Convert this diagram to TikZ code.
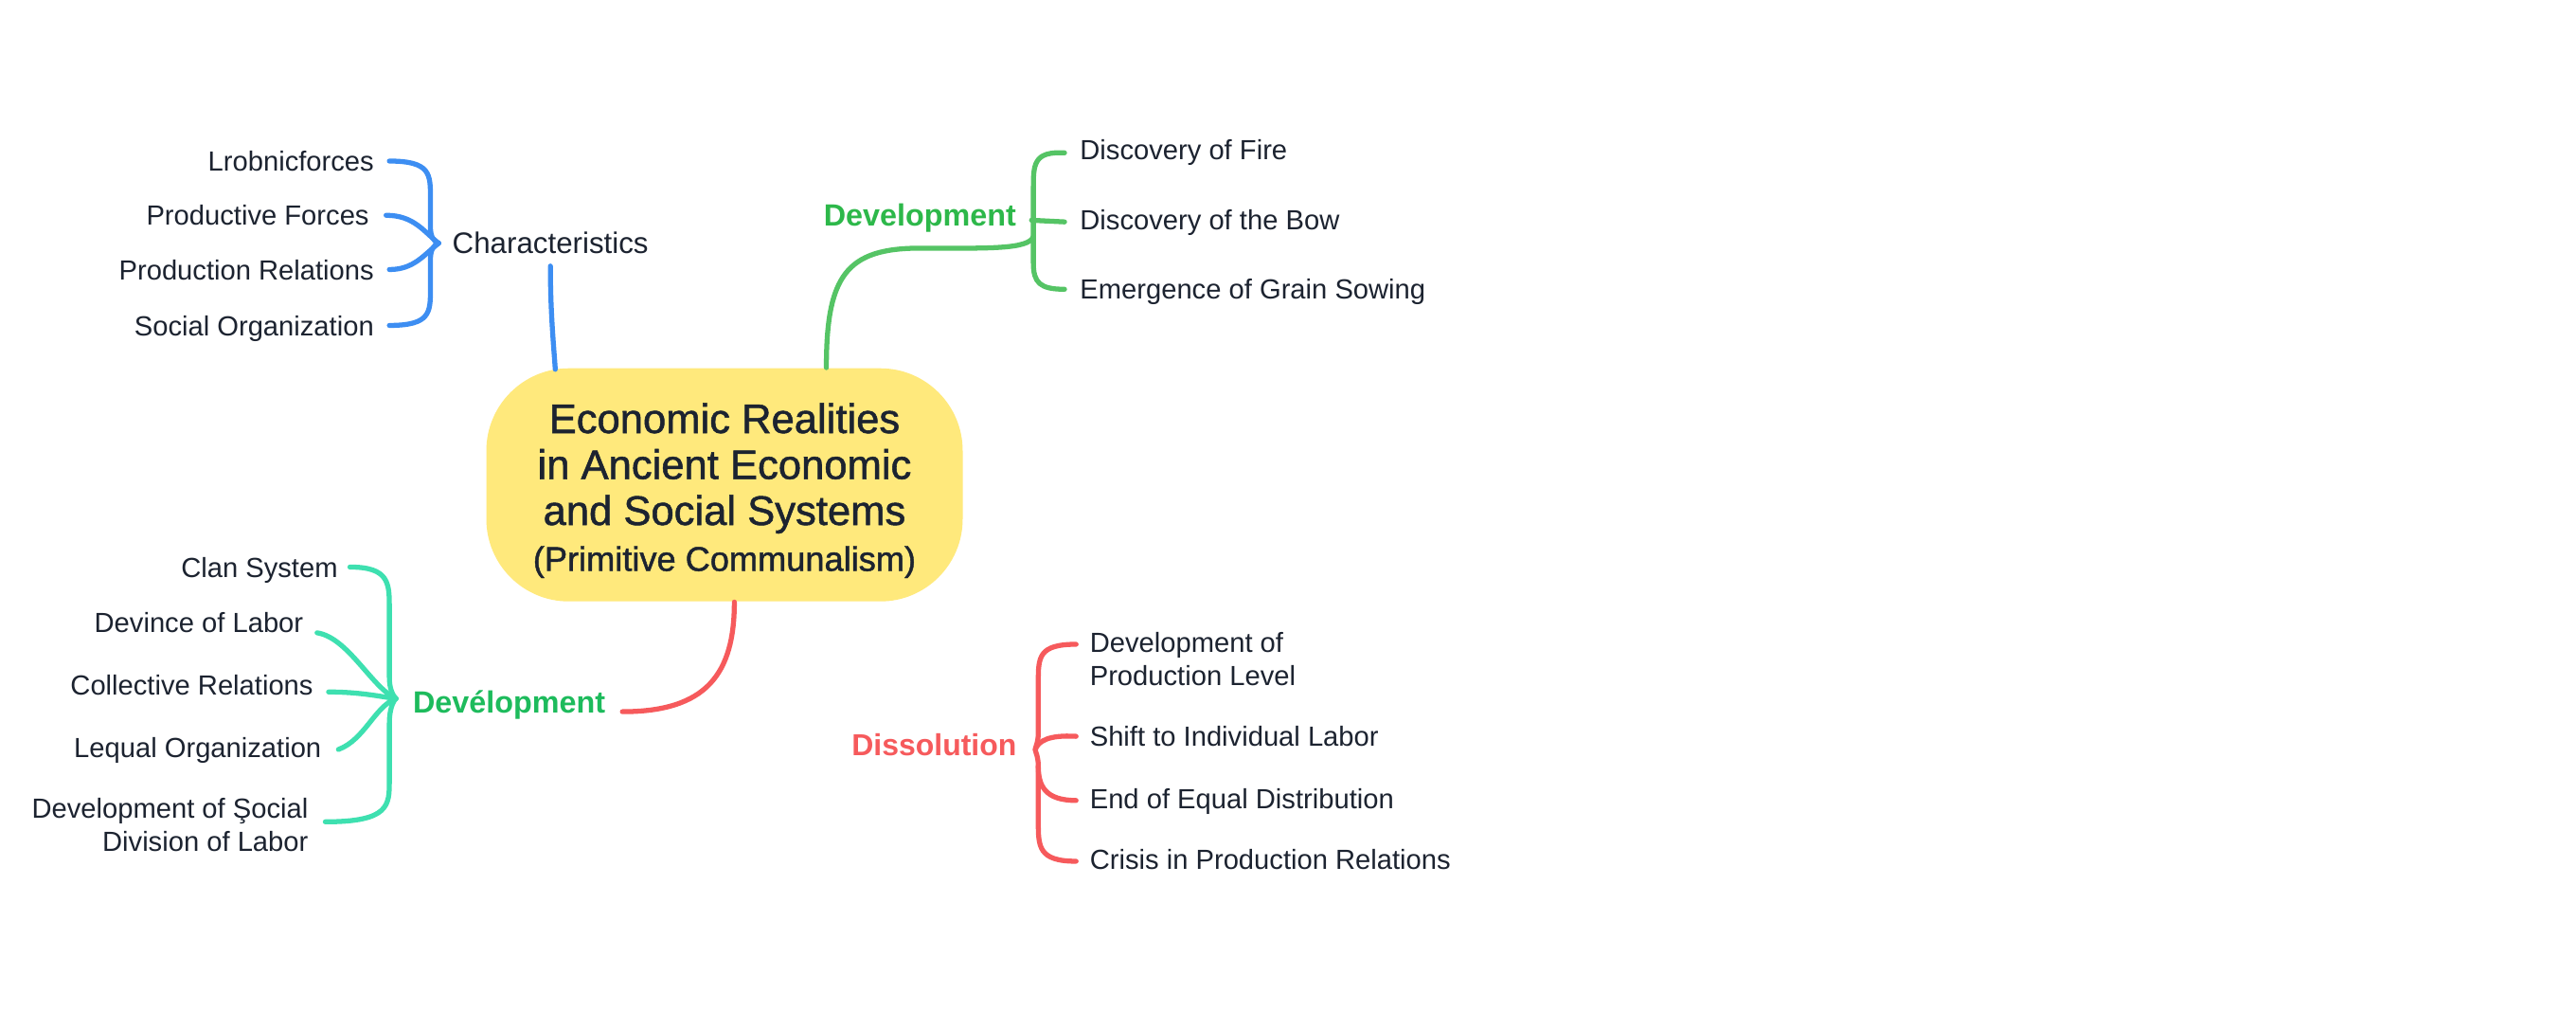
\documentclass[tikz,border=0pt]{standalone}
\usepackage{fontspec}
\setmainfont{Liberation Sans}
\newfontfamily\titlefont[FakeBold=1.2]{Liberation Sans}
\usetikzlibrary{calc}
\definecolor{ink}{HTML}{1C2330}
\definecolor{sunyellow}{HTML}{FFE97C}
\definecolor{charblue}{HTML}{3D8EF2}
\definecolor{devline}{HTML}{55C465}
\definecolor{devtext}{HTML}{2DB84A}
\definecolor{clanteal}{HTML}{3EE0B0}
\definecolor{clantext}{HTML}{1DBB5C}
\definecolor{dissred}{HTML}{F65A5C}
\tikzset{
  item/.style={inner sep=0pt, text=ink, font=\fontsize{8.3}{9.9}\selectfont, text height=6pt, text depth=0pt},
  item2/.style={inner sep=0pt, text=ink, font=\fontsize{8.3}{9.9}\selectfont},
  branch/.style={inner sep=0pt, font=\bfseries\fontsize{9.2}{11}\selectfont, text height=6.6pt, text depth=0pt},
  link/.style={line width=1.5pt, line cap=round, line join=round},
  root/.style={fill=sunyellow, rounded corners=8.7mm, minimum width=50.3mm, minimum height=24.6mm,
    align=center, text=ink, inner sep=0pt, font=\titlefont\fontsize{12.4}{13.8}\selectfont}
}
\begin{document}
\begin{tikzpicture}[x=0.17347mm, y=-0.17347mm]
    \useasboundingbox[fill=white] (0,0) rectangle (1568,626);
    % Zentrum
    \node[root] (root) at (441,295) {\rule{0pt}{12.4pt}Economic Realities\\ in Ancient Economic\\ and Social Systems\\ {\fontsize{10.3}{12.6}\selectfont (Primitive Communalism)}};
    % Characteristics
    \node[item, font=\fontsize{8.9}{10.5}\selectfont, text height=6.4pt, anchor=west] (char) at (275,148) {Characteristics};
    \node[item, anchor=east] (lrob) at (228,98) {Lrobnicforces};
    \node[item, anchor=east] (prodf) at (225,131) {Productive Forces};
    \node[item, anchor=east] (prodr) at (228,164) {Production Relations};
    \node[item, anchor=east] (socorg) at (228,198) {Social Organization};
    \coordinate (ctip) at ($(char.west)+(-8,0)$);
    \begin{scope}[link, charblue]
        \draw ($(char.south)+(0,7)$) .. controls (335,190) and (337,210) .. ($(root.north)+(-103,1)$);
        \draw ($(lrob.east)+(9,0)$) .. controls (262,98) and (262,106) .. (262,120) -- (262,138) .. controls (262,144) and (264,147) .. (ctip);
        \draw ($(prodf.east)+(10,0)$) .. controls (252,131) and (258,141) .. (ctip);
        \draw ($(prodr.east)+(9,0)$) .. controls (252,164) and (258,155) .. (ctip);
        \draw ($(socorg.east)+(9,0)$) .. controls (262,198) and (262,190) .. (262,176) -- (262,158) .. controls (262,152) and (264,149) .. (ctip);
    \end{scope}
    % Development (oben)
    \node[branch, devtext, anchor=west] (devA) at (501,131) {Development};
    \node[item, anchor=west] (fire) at (657,91) {Discovery of Fire};
    \node[item, anchor=west] (bow) at (657,134) {Discovery of the Bow};
    \node[item, anchor=west] (grain) at (657,176) {Emergence of Grain Sowing};
    \coordinate (gtip) at ($(devA.east)+(9,3)$);
    \begin{scope}[link, devline]
        \draw ($(root.north)+(62,0)$) .. controls (503,168) and (515,151) .. (560,151) .. controls (600,151) and (626,152) .. (629,144);
        \draw ($(fire.west)+(-9,2)$) .. controls (629,92) and (629,100) .. (629,115) -- (629,160) .. controls (629,172) and (633,176) .. ($(grain.west)+(-9,0)$);
        \draw ($(bow.west)+(-9,1)$) -- (gtip);
    \end{scope}
    % Development (unten)
    \node[branch, clantext, anchor=west] (devB) at (251,427) {Devélopment};
    \node[item, anchor=east] (clan) at (206,345) {Clan System};
    \node[item, anchor=east] (devince) at (185,379) {Devince of Labor};
    \node[item, anchor=east] (collrel) at (191,417) {Collective Relations};
    \node[item, anchor=east] (lequal) at (196,455) {Lequal Organization};
    \node[item2, align=right, anchor=east] (divlab) at (188,502) {Development of Şocial\\ Division of Labor};
    \coordinate (ttip) at ($(devB.west)+(-10,-2)$);
    \draw[link, dissred] ($(root.south)+(6,0)$) .. controls (447,410) and (430,433) .. ($(devB.east)+(10,6)$);
    \begin{scope}[link, clanteal]
        \draw ($(clan.east)+(7,0)$) .. controls (237,345) and (237,355) .. (237,370) -- (237,412) .. controls (237,419) and (239,423) .. (ttip);
        \draw ($(devince.east)+(8,6)$) .. controls (212,388) and (226,418) .. (ttip);
        \draw ($(collrel.east)+(9,4)$) .. controls (220,421) and (232,424) .. (ttip);
        \draw ($(lequal.east)+(10,1)$) .. controls (222,450) and (228,430) .. (ttip);
        \draw ($(divlab.east)+(10,-2)$) .. controls (237,500) and (237,490) .. (237,475) -- (237,440) .. controls (237,432) and (239,427) .. (ttip);
    \end{scope}
    % Dissolution
    \node[branch, dissred, font=\bfseries\fontsize{9.1}{11}\selectfont, anchor=west] (diss) at (518,453) {Dissolution};
    \node[item2, align=left, anchor=west] (prodlvl) at (663,401) {Development of\\ Production Level};
    \node[item, anchor=west] (shift) at (663,448) {Shift to Individual Labor};
    \node[item, anchor=west] (equal) at (663,486) {End of Equal Distribution};
    \node[item, anchor=west] (crisis) at (663,523) {Crisis in Production Relations};
    \coordinate (dtip) at ($(diss.east)+(11,3)$);
    \begin{scope}[link, dissred]
        \draw ($(prodlvl.west)+(-8,-9)$) .. controls (632,392) and (632,400) .. (632,415) -- (632,446) .. controls (632,452) and (630,455) .. (dtip);
        \draw ($(shift.west)+(-8,0)$) .. controls (638,447) and (632,451) .. (dtip);
        \draw ($(equal.west)+(-8,1)$) .. controls (636,487) and (632,478) .. (632,466);
        \draw ($(crisis.west)+(-8,1)$) .. controls (632,524) and (632,515) .. (632,500) -- (632,466) .. controls (632,460) and (630,457) .. (dtip);
    \end{scope}
\end{tikzpicture}
\end{document}
